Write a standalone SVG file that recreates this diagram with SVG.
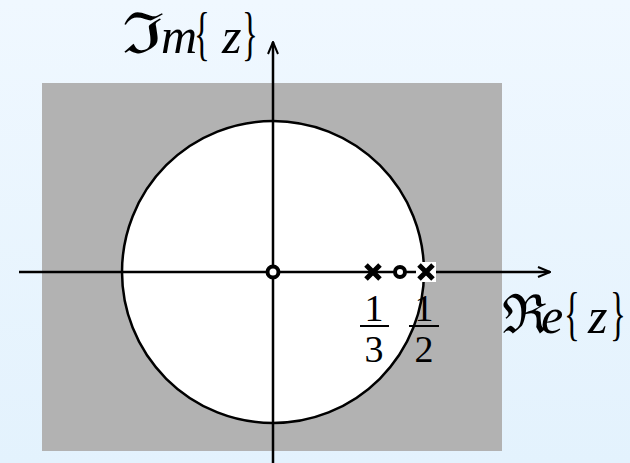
<svg xmlns="http://www.w3.org/2000/svg" width="630" height="463" viewBox="0 0 630 463">
<defs>
<linearGradient id="bg" x1="0" y1="0" x2="0" y2="1">
<stop offset="0" stop-color="#f0f8ff"/>
<stop offset="1" stop-color="#e3f2fd"/>
</linearGradient>
<marker id="arr" markerWidth="14" markerHeight="12" refX="13" refY="6" orient="auto" markerUnits="userSpaceOnUse">
<path d="M1,1 L13,6 L1,11" fill="none" stroke="#000" stroke-width="2"/>
</marker>
<style>
.ax{stroke:#000;stroke-width:2.5;fill:none}
.zero{fill:#fff;stroke:#000;stroke-width:4}
.pole{stroke:#000;stroke-width:5;fill:none}
.bar{stroke:#000;stroke-width:2}
.num{font-family:"Liberation Serif","Times New Roman",serif;font-size:38px;fill:#000}
.lbl{font-family:"Liberation Serif","Times New Roman",serif;font-size:50px;fill:#000}
.frak{font-family:"DejaVu Serif",serif;font-size:54px;fill:#000}
.brace{font-family:"Liberation Serif","Times New Roman",serif;font-size:60px;fill:#000}
.it{font-style:italic}
</style>
</defs>
<rect width="630" height="463" fill="url(#bg)"/>
<g id="region">
<rect x="42" y="83" width="460" height="368" fill="#b2b2b2"/>
<circle cx="273" cy="272" r="151" fill="#fff" stroke="#000" stroke-width="2.5"/>
</g>
<g id="connectors">
<line class="ax" x1="19" y1="272" x2="550" y2="272" marker-end="url(#arr)"/>
<line class="ax" x1="273" y1="463" x2="273" y2="42" marker-end="url(#arr)"/>
</g>
<g id="origin-zero"><circle class="zero" cx="273" cy="272" r="5.5"/></g>
<g id="pole-third"><path class="pole" d="M366,265 L380,279 M380,265 L366,279"/></g>
<g id="zero-mid"><circle class="zero" cx="400" cy="272" r="5"/></g>
<g id="pole-half"><rect x="416" y="262" width="20" height="20" fill="#fff"/><path class="pole" d="M419,265 L433,279 M433,265 L419,279"/></g>
<g id="label-third">
<text class="num" x="374" y="321" text-anchor="middle">1</text>
<line class="bar" x1="360" y1="326" x2="389" y2="326"/>
<text class="num" x="374" y="362" text-anchor="middle">3</text>
</g>
<g id="label-half">
<text class="num" x="424" y="321" text-anchor="middle">1</text>
<line class="bar" x1="409" y1="326" x2="439" y2="326"/>
<text class="num" x="424" y="362" text-anchor="middle">2</text>
</g>
<g id="label-im">
<text class="frak" transform="translate(122,53) scale(1.4,1.05)">ℑ</text>
<text class="lbl" y="53"><tspan class="it" x="161">m</tspan><tspan class="it" x="222">z</tspan></text>
<text class="brace" transform="translate(194,53) scale(0.55,1)">{</text>
<text class="brace" transform="translate(242,53) scale(0.55,1)">}</text>
</g>
<g id="label-re">
<text class="lbl" y="333"><tspan class="frak" x="502">ℜ</tspan><tspan class="it" x="541">e</tspan><tspan class="it" x="588">z</tspan></text>
<text class="brace" transform="translate(564,333) scale(0.55,1)">{</text>
<text class="brace" transform="translate(610,333) scale(0.55,1)">}</text>
</g>
</svg>
